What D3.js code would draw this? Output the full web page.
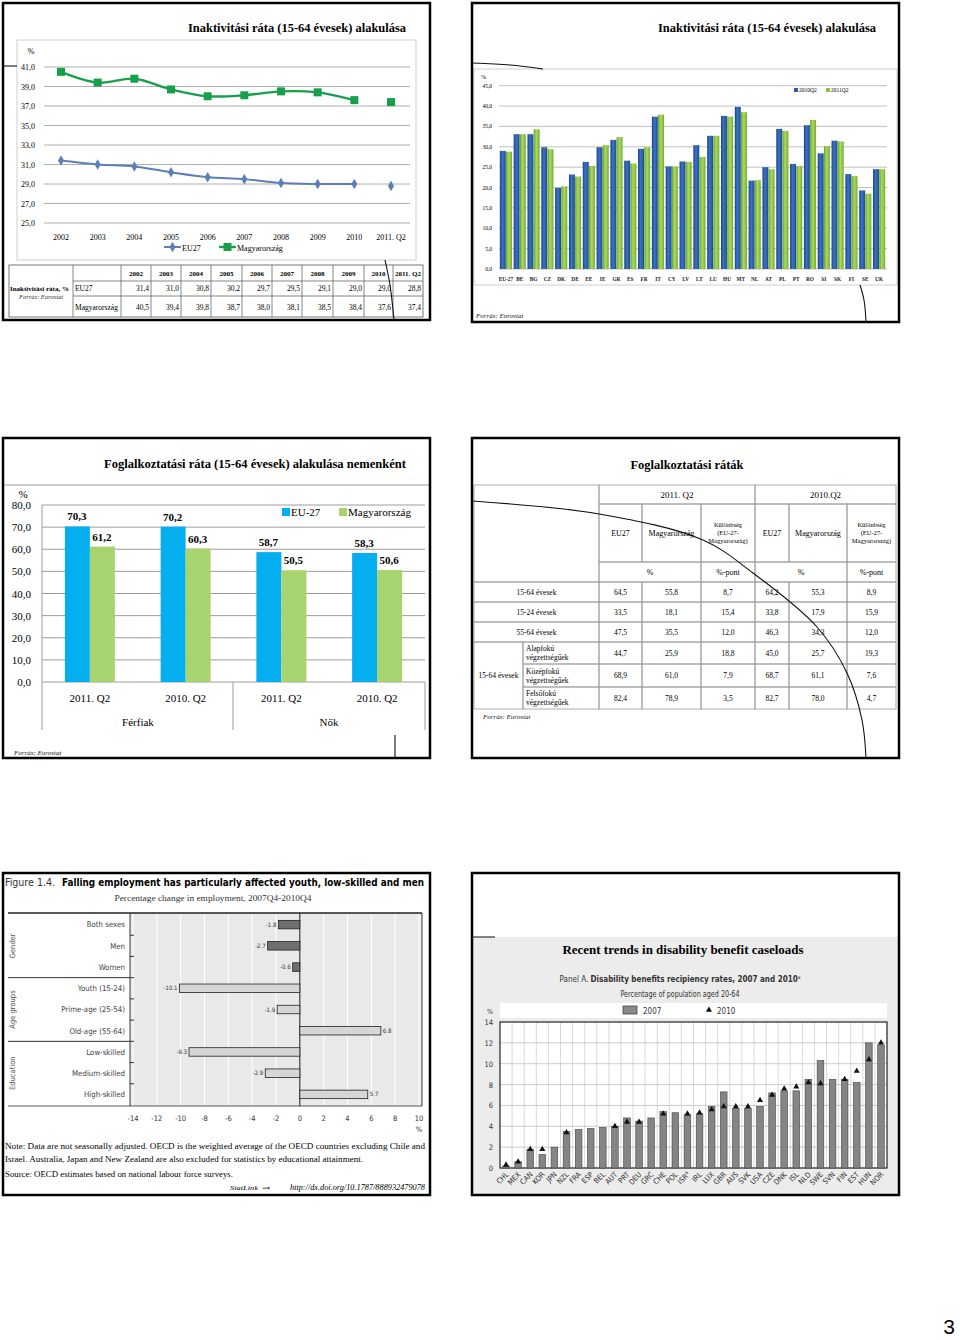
<!DOCTYPE html>
<html><head><meta charset="utf-8">
<script src="https://cdn.jsdelivr.net/npm/d3@7"></script>
<style>body{margin:0;background:#fff} svg{display:block}</style>
</head><body>
<svg id="c" width="960" height="1340"></svg>
<script>
// ---------- DATA ----------
const inactYears = ["2002","2003","2004","2005","2006","2007","2008","2009","2010","2011. Q2"];
const inactEU27 = [31.4,31.0,30.8,30.2,29.7,29.5,29.1,29.0,29.0,28.8];
const inactHU = [40.5,39.4,39.8,38.7,38.0,38.1,38.5,38.4,37.6,37.4];
const inactTicks = [25,27,29,31,33,35,37,39,41];
const inactSeries = ["EU27","Magyarország"];

const countries = ["EU-27","BE","BG","CZ","DK","DE","EE","IE","GR","ES","FR","IT","CY","LV","LT","LU","HU","MT","NL","AT","PL","PT","RO","SI","SK","FI","SE","UK"];
const inact2010Q2 = [29.0,33.1,33.1,29.9,19.9,23.2,26.3,29.9,31.7,26.6,29.5,37.4,25.2,26.4,30.4,32.7,37.6,39.8,21.7,25.0,34.4,25.8,35.3,28.4,31.5,23.3,19.3,24.5];
const inact2011Q2 = [28.8,33.1,34.3,29.4,20.3,22.7,25.3,30.4,32.4,25.9,29.9,37.9,25.2,26.3,27.5,32.7,37.4,38.5,21.8,24.5,33.9,25.3,36.6,30.2,31.3,22.8,18.5,24.5];
const barTicks = [0,5,10,15,20,25,30,35,40,45];
const barSeries = ["2010Q2","2011Q2"];

const empCats = ["2011. Q2","2010. Q2","2011. Q2","2010. Q2"];
const empGroups = ["Férfiak","Nők"];
const empEU = [70.3,70.2,58.7,58.3];
const empHU = [61.2,60.3,50.5,50.6];
const empTicks = [0,10,20,30,40,50,60,70,80];
const empSeries = ["EU-27","Magyarország"];

const tblRowLabels = ["15-64 évesek","15-24 évesek","55-64 évesek"];
const tblEduLabel = "15-64 évesek";
const tblEduRows = [["Alapfokú","végzettségűek"],["Középfokú","végzettségűek"],["Felsőfokú","végzettségűek"]];
const tblPeriods = ["2011. Q2","2010.Q2"];
const tblColHeads = [["EU27"],["Magyarország"],["Különbség","(EU-27-","Magyarország)"]];
const tblUnits = ["%","%-pont"];
const eu2011 = [64.5,33.5,47.5,44.7,68.9,82.4];
const hu2011 = [55.8,18.1,35.5,25.9,61.0,78.9];
const diff2011 = [8.7,15.4,12.0,18.8,7.9,3.5];
const eu2010 = [64.2,33.8,46.3,45.0,68.7,82.7];
const hu2010 = [55.3,17.9,34.3,25.7,61.1,78.0];
const diff2010 = [8.9,15.9,12.0,19.3,7.6,4.7];

const oecdCats = ["Both sexes","Men","Women","Youth (15-24)","Prime-age (25-54)","Old-age (55-64)","Low-skilled","Medium-skilled","High-skilled"];
const oecdVals = [-1.8,-2.7,-0.6,-10.1,-1.9,6.8,-9.3,-2.9,5.7];
const oecdGroups = ["Gender","Age groups","Education"];
const oecdTicks = [-14,-12,-10,-8,-6,-4,-2,0,2,4,6,8,10];

const disCountries = ["CHL","MEX","CAN","KOR","JPN","NZL","FRA","ESP","BEL","AUT","PRT","DEU","GRC","CHE","POL","ISR","IRL","LUX","GBR","AUS","SVK","USA","CZE","DNK","ISL","NLD","SWE","SVN","FIN","EST","HUN","NOR"];
const dis2007 = [0.2,0.6,1.8,1.3,2.0,3.5,3.7,3.8,3.9,4.0,4.8,4.5,4.8,5.4,5.3,5.1,5.2,5.9,7.3,5.7,5.7,5.9,7.2,7.4,7.4,8.5,10.3,8.5,8.5,8.2,12.0,11.8];
const dis2010 = [0.3,0.6,1.8,1.8,null,3.4,null,null,null,4.0,4.4,4.4,null,5.2,null,5.2,5.3,5.6,5.9,5.9,5.9,6.5,7.0,7.6,7.8,8.2,8.1,null,8.5,9.3,10.4,12.0];
const disTicks = [0,2,4,6,8,10,12,14];
const disSeries = ["2007","2010"];

// ---------- HELPERS ----------
const svg = d3.select("#c");
const SERIF = "'Liberation Serif','DejaVu Serif',serif";
const SANS = "'Liberation Sans','DejaVu Sans',sans-serif";
const COND = "'DejaVu Sans Condensed','Liberation Sans Narrow','Liberation Sans',sans-serif";
const fmt1 = v => d3.format(".1f")(v).replace(".", ",");

function T(g, x, y, s, o = {}) {
  const t = g.append("text").attr("x", x).attr("y", y).text(s)
    .attr("font-family", o.f || SERIF).attr("font-size", o.s || 8).attr("fill", o.c || "#000");
  if (o.w) t.attr("font-weight", o.w);
  if (o.a) t.attr("text-anchor", o.a);
  if (o.i) t.attr("font-style", "italic");
  if (o.len) t.attr("textLength", o.len).attr("lengthAdjust", "spacingAndGlyphs");
  if (o.r) t.attr("transform", `rotate(${o.r},${x},${y})`);
  return t;
}
const defs = svg.append("defs");
function hgrad(id, c0, c1, c2) {
  const g = defs.append("linearGradient").attr("id", id).attr("x1", 0).attr("x2", 1).attr("y1", 0).attr("y2", 0);
  g.append("stop").attr("offset", "0%").attr("stop-color", c0);
  g.append("stop").attr("offset", "45%").attr("stop-color", c1);
  g.append("stop").attr("offset", "100%").attr("stop-color", c2);
}
hgrad("gBlue", "#1c4585", "#3b74c4", "#1d4a8c");
hgrad("gGreen", "#6aa22c", "#a8dc60", "#74ad33");

function frame(x, y, w, h) {
  svg.append("rect").attr("x", x).attr("y", y).attr("width", w).attr("height", h)
    .attr("fill", "none").attr("stroke", "#000").attr("stroke-width", 2.5);
}
const deco = d3.line().curve(d3.curveCatmullRom);
function decoPath(pts) {
  svg.append("path").attr("d", deco(pts)).attr("fill", "none").attr("stroke", "#111").attr("stroke-width", 1.1);
}

// ================= PANEL 1 =================
{
  const g = svg.append("g");
  T(g, 406, 32, "Inaktivitási ráta (15-64 évesek) alakulása", {s: 13, w: "bold", a: "end", len: 218});
  g.append("rect").attr("x", 17).attr("y", 40).attr("width", 399).attr("height", 220)
    .attr("fill", "#fff").attr("stroke", "#cfcfcf");
  const y = d3.scaleLinear().domain([25, 41]).range([223, 67]);
  const x = d3.scalePoint().domain(inactYears).range([61, 391]);
  g.selectAll(".gl").data(inactTicks).join("line").attr("x1", 44).attr("x2", 410)
    .attr("y1", d => y(d)).attr("y2", d => y(d)).attr("stroke", "#9a9a9a").attr("stroke-width", 0.8);
  inactTicks.forEach(d => T(g, 35, y(d) + 3, fmt1(d), {s: 8, a: "end"}));
  T(g, 31, 54, "%", {s: 8, a: "middle"});
  inactYears.forEach(d => T(g, x(d), 240, d, {s: 8, a: "middle"}));
  const line = d3.line().x((d, i) => x(inactYears[i])).y(d => y(d)).curve(d3.curveCatmullRom);
  const cEU = "#5c7fb8", cHU = "#17a04c";
  g.append("path").attr("d", line(inactEU27.slice(0, 9))).attr("fill", "none").attr("stroke", cEU).attr("stroke-width", 2);
  g.append("path").attr("d", line(inactHU.slice(0, 9))).attr("fill", "none").attr("stroke", cHU).attr("stroke-width", 2.4);
  const dia = d3.symbol().type(d3.symbolDiamond).size(32);
  inactEU27.forEach((v, i) => g.append("path").attr("d", dia()).attr("fill", cEU)
    .attr("transform", `translate(${x(inactYears[i])},${y(v)})`));
  inactHU.forEach((v, i) => g.append("rect").attr("x", x(inactYears[i]) - 4).attr("y", y(v) - 4)
    .attr("width", 8).attr("height", 8).attr("fill", cHU));
  // legend
  g.append("line").attr("x1", 164).attr("x2", 181).attr("y1", 247).attr("y2", 247).attr("stroke", cEU).attr("stroke-width", 2);
  g.append("path").attr("d", dia()).attr("fill", cEU).attr("transform", "translate(172.5,247)");
  T(g, 182, 250.5, inactSeries[0], {s: 8});
  g.append("line").attr("x1", 219).attr("x2", 236).attr("y1", 247).attr("y2", 247).attr("stroke", cHU).attr("stroke-width", 2.4);
  g.append("rect").attr("x", 223.5).attr("y", 243).attr("width", 8).attr("height", 8).attr("fill", cHU);
  T(g, 237, 250.5, inactSeries[1], {s: 8});
  // table
  const cx = [9, 73, 121, 151, 181, 211, 242, 272, 302, 333, 364, 393, 423];
  const ls = "#555";
  g.append("rect").attr("x", 9).attr("y", 265).attr("width", 414).attr("height", 52).attr("fill", "none").attr("stroke", ls).attr("stroke-width", 0.8);
  [281, 296].forEach(yy => g.append("line").attr("x1", 73).attr("x2", 423).attr("y1", yy).attr("y2", yy).attr("stroke", ls).attr("stroke-width", 0.7));
  cx.slice(1, -1).forEach(xx => g.append("line").attr("x1", xx).attr("x2", xx).attr("y1", 265).attr("y2", 317).attr("stroke", ls).attr("stroke-width", 0.7));
  T(g, 10, 291, "Inaktivitási ráta, %", {s: 7, w: "bold"});
  T(g, 41, 299, "Forrás: Eurostat", {s: 6.5, i: true, a: "middle", c: "#333"});
  inactYears.forEach((d, i) => T(g, (cx[i + 2] + cx[i + 3]) / 2, 276, d, {s: 7, w: "bold", a: "middle"}));
  T(g, 75, 291, inactSeries[0], {s: 7.5});
  T(g, 75, 310, inactSeries[1], {s: 7.5});
  inactEU27.forEach((v, i) => T(g, cx[i + 3] - 2, 291, fmt1(v), {s: 7.5, a: "end"}));
  inactHU.forEach((v, i) => T(g, cx[i + 3] - 2, 310, fmt1(v), {s: 7.5, a: "end"}));
}
frame(3, 3, 427, 317);
decoPath([[4, 66], [17, 66]]);
decoPath([[385, 260], [390, 285], [394, 320]]);

// ================= PANEL 2 =================
{
  const g = svg.append("g");
  T(g, 876, 32, "Inaktivitási ráta (15-64 évesek) alakulása", {s: 13, w: "bold", a: "end", len: 218});
  g.append("rect").attr("x", 474).attr("y", 69).attr("width", 423).attr("height", 216)
    .attr("fill", "#fff").attr("stroke", "#cfcfcf");
  const y = d3.scaleLinear().domain([0, 45]).range([269, 85.7]);
  const x = d3.scaleBand().domain(countries).range([499, 886]).paddingInner(0.12).paddingOuter(0.06);
  const xs = d3.scaleBand().domain(barSeries).range([0, x.bandwidth()]).paddingInner(0.04);
  barTicks.forEach(d => {
    g.append("line").attr("x1", 499).attr("x2", 887).attr("y1", y(d)).attr("y2", y(d)).attr("stroke", "#b0b0b0").attr("stroke-width", 0.8);
    T(g, 492, y(d) + 2, fmt1(d), {s: 5.5, a: "end"});
  });
  T(g, 481, 79, "%", {s: 6});
  const series = [inact2010Q2, inact2011Q2];
  const fills = ["url(#gBlue)", "url(#gGreen)"];
  countries.forEach((c, i) => {
    series.forEach((s, k) => {
      g.append("rect").attr("x", x(c) + xs(barSeries[k])).attr("y", y(s[i]))
        .attr("width", xs.bandwidth()).attr("height", y(0) - y(s[i])).attr("fill", fills[k]);
    });
    T(g, x(c) + x.bandwidth() / 2, 281, c, {s: 5.3, w: "bold", a: "middle", c: "#222"});
  });
  // legend
  g.append("rect").attr("x", 794).attr("y", 88).attr("width", 4).attr("height", 4).attr("fill", "#2a5ca8");
  T(g, 799, 92, barSeries[0], {s: 5.5});
  g.append("rect").attr("x", 826).attr("y", 88).attr("width", 4).attr("height", 4).attr("fill", "#8cc63e");
  T(g, 831, 92, barSeries[1], {s: 5.5});
  T(g, 476, 318, "Forrás: Eurostat", {s: 7, i: true, c: "#222"});
}
frame(472, 3, 427, 319);
decoPath([[473, 63], [510, 65], [543, 69]]);
decoPath([[860, 285], [864, 300], [866, 321]]);

// ================= PANEL 3 =================
{
  const g = svg.append("g");
  T(g, 406, 468, "Foglalkoztatási ráta (15-64 évesek) alakulása nemenként", {s: 13, w: "bold", a: "end", len: 302});
  g.append("line").attr("x1", 4).attr("x2", 429).attr("y1", 485).attr("y2", 485).attr("stroke", "#999");
  const y = d3.scaleLinear().domain([0, 80]).range([682, 505]);
  const x = d3.scaleBand().domain(d3.range(empCats.length)).range([42, 425]);
  empTicks.forEach(d => {
    g.append("line").attr("x1", 42).attr("x2", 425).attr("y1", y(d)).attr("y2", y(d)).attr("stroke", "#9c9c9c").attr("stroke-width", 1);
    T(g, 31, y(d) + 4, fmt1(d), {s: 11, a: "end"});
  });
  T(g, 23, 498, "%", {s: 11, a: "middle"});
  [[42, 505, 730], [233, 682, 730], [425, 682, 730]].forEach(([xx, y0, y1]) =>
    g.append("line").attr("x1", xx).attr("x2", xx).attr("y1", y0).attr("y2", y1).attr("stroke", "#9c9c9c"));
  const cBlue = "#04aeef", cGreen = "#a7d46e";
  empCats.forEach((c, i) => {
    const cx = x(i) + x.bandwidth() / 2;
    g.append("rect").attr("x", cx - 25).attr("y", y(empEU[i])).attr("width", 25).attr("height", y(0) - y(empEU[i])).attr("fill", cBlue);
    g.append("rect").attr("x", cx).attr("y", y(empHU[i])).attr("width", 25).attr("height", y(0) - y(empHU[i])).attr("fill", cGreen);
    T(g, cx - 13, y(empEU[i]) - 6, fmt1(empEU[i]), {s: 11, w: "bold", a: "middle"});
    T(g, cx + 12, y(empHU[i]) - 6, fmt1(empHU[i]), {s: 11, w: "bold", a: "middle"});
    T(g, cx, 702, c, {s: 11, a: "middle"});
  });
  T(g, 138, 726, empGroups[0], {s: 11, a: "middle"});
  T(g, 329, 726, empGroups[1], {s: 11, a: "middle"});
  g.append("rect").attr("x", 282).attr("y", 508).attr("width", 8).attr("height", 8).attr("fill", cBlue);
  T(g, 291, 516, empSeries[0], {s: 11});
  g.append("rect").attr("x", 339).attr("y", 508).attr("width", 8).attr("height", 8).attr("fill", cGreen);
  T(g, 348, 516, empSeries[1], {s: 11});
  T(g, 14, 755, "Forrás: Eurostat", {s: 7, i: true, c: "#222"});
}
frame(3, 438, 427, 320);
decoPath([[395, 735], [395, 758]]);

// ================= PANEL 4 =================
{
  const g = svg.append("g");
  T(g, 687, 469, "Foglalkoztatási ráták", {s: 13, w: "bold", a: "middle", len: 113});
  const C = [474, 599, 642, 701, 755, 789, 847, 896];
  const lc = "#9a9a9a";
  function cell(x0, x1, y0, y1, lines, o = {}) {
    g.append("rect").attr("x", x0).attr("y", y0).attr("width", x1 - x0).attr("height", y1 - y0)
      .attr("fill", "none").attr("stroke", lc).attr("stroke-width", 0.8);
    if (!lines) return;
    const s = o.s || 7.5, lh = o.lh || s * 1.05, n = lines.length;
    const cy = (y0 + y1) / 2;
    lines.forEach((t, k) => {
      const yy = cy - (n - 1) * lh / 2 + k * lh + s * 0.35;
      if (o.left) T(g, x0 + 3, yy, t, {s});
      else T(g, (x0 + x1) / 2, yy, t, {s, a: "middle"});
    });
  }
  cell(C[0], C[1], 485, 582, null);
  cell(C[1], C[4], 485, 504, [tblPeriods[0]], {s: 9});
  cell(C[4], C[7], 485, 504, [tblPeriods[1]], {s: 9});
  [0, 3].forEach(off => {
    cell(C[1 + off], C[2 + off], 504, 562, tblColHeads[0], {s: 8});
    cell(C[2 + off], C[3 + off], 504, 562, tblColHeads[1], {s: 8});
    cell(C[3 + off], C[4 + off], 504, 562, tblColHeads[2], {s: 6.5, lh: 8});
    cell(C[1 + off], C[3 + off], 562, 582, [tblUnits[0]], {s: 8});
    cell(C[3 + off], C[4 + off], 562, 582, [tblUnits[1]], {s: 8});
  });
  const rowsY = [582, 602, 622, 642, 664, 687, 709];
  const cols = [eu2011, hu2011, diff2011, eu2010, hu2010, diff2010];
  for (let r = 0; r < 6; r++) {
    const y0 = rowsY[r], y1 = rowsY[r + 1];
    if (r < 3) cell(C[0], C[1], y0, y1, [tblRowLabels[r]]);
    else cell(523, C[1], y0, y1, tblEduRows[r - 3], {left: true, lh: 9});
    cols.forEach((arr, k) => cell(C[k + 1], C[k + 2], y0, y1, [fmt1(arr[r])]));
  }
  cell(C[0], 523, 642, 709, [tblEduLabel]);
  T(g, 483, 719, "Forrás: Eurostat", {s: 7, i: true, c: "#222"});
}
frame(472, 438, 427, 320);
decoPath([[472, 501], [599, 514], [703, 540], [753, 573], [817, 627], [847, 673], [862, 720], [866, 758]]);

// ================= PANEL 5 =================
{
  const g = svg.append("g");
  T(g, 5, 886, "Figure 1.4.", {s: 10.5, f: COND, c: "#333", len: 50});
  T(g, 62, 886, "Falling employment has particularly affected youth, low-skilled and men", {s: 11, f: COND, w: "bold", len: 362});
  T(g, 213, 901, "Percentage change in employment, 2007Q4-2010Q4", {s: 8, a: "middle", c: "#333", len: 197});
  const x = d3.scaleLinear().domain([-14, 10]).range([133, 419]);
  const y = d3.scaleBand().domain(oecdCats).range([914, 1105]).paddingInner(0.6).paddingOuter(0.3);
  g.append("rect").attr("x", 130).attr("y", 913).attr("width", 292).attr("height", 193).attr("fill", "#e9e9e9");
  oecdTicks.forEach(d => {
    g.append("line").attr("x1", x(d)).attr("x2", x(d)).attr("y1", 913).attr("y2", 1106).attr("stroke", "#fff").attr("stroke-width", 1);
    T(g, x(d), 1121, d, {s: 7.5, f: COND, a: "middle", c: "#333"});
  });
  T(g, 419, 1132, "%", {s: 7.5, f: COND, a: "middle", c: "#333"});
  g.append("line").attr("x1", 8).attr("x2", 422).attr("y1", 913).attr("y2", 913).attr("stroke", "#222").attr("stroke-width", 1.5);
  g.append("line").attr("x1", 8).attr("x2", 422).attr("y1", 1106).attr("y2", 1106).attr("stroke", "#555").attr("stroke-width", 1);
  g.append("line").attr("x1", 130).attr("x2", 130).attr("y1", 913).attr("y2", 1106).attr("stroke", "#333");
  g.append("line").attr("x1", 422).attr("x2", 422).attr("y1", 913).attr("y2", 1106).attr("stroke", "#333");
  g.append("line").attr("x1", x(0)).attr("x2", x(0)).attr("y1", 913).attr("y2", 1106).attr("stroke", "#111").attr("stroke-width", 1);
  const step = y.step();
  oecdCats.forEach((c, i) => {
    const v = oecdVals[i];
    const yy = y(c);
    if (i > 0) g.append("line").attr("x1", 130).attr("x2", 134).attr("y1", yy - step * 0.3).attr("y2", yy - step * 0.3).attr("stroke", "#333");
    g.append("rect").attr("x", Math.min(x(0), x(v))).attr("y", yy).attr("width", Math.abs(x(v) - x(0)))
      .attr("height", y.bandwidth()).attr("fill", i < 3 ? "#6f6f6f" : "#d6d6d6").attr("stroke", "#222").attr("stroke-width", 0.8);
    const ly = yy + y.bandwidth() / 2 + 2;
    if (v < 0) T(g, x(v) - 2, ly, String(v), {s: 6, f: COND, a: "end", c: "#333"});
    else T(g, x(v) + 2, ly, String(v), {s: 6, f: COND, c: "#333"});
    T(g, 125, yy + y.bandwidth() / 2 + 2.8, c, {s: 7.8, f: COND, a: "end", c: "#444"});
  });
  [3, 6].forEach(k => {
    const yy = y(oecdCats[k]) - step * 0.3;
    g.append("line").attr("x1", 8).attr("x2", 130).attr("y1", yy).attr("y2", yy).attr("stroke", "#333");
  });
  oecdGroups.forEach((gname, k) => {
    const yc = (y(oecdCats[k * 3]) + y(oecdCats[k * 3 + 2]) + y.bandwidth()) / 2;
    T(g, 15, yc, gname, {s: 7.5, f: COND, a: "middle", c: "#555", r: -90});
  });
  T(g, 5, 1149, "Note: Data are not seasonally adjusted. OECD is the weighted average of the OECD countries excluding Chile and", {s: 7.5, len: 420});
  T(g, 5, 1162, "Israel. Australia, Japan and New Zealand are also excluded for statistics by educational attainment.", {s: 7.5, len: 358});
  T(g, 5, 1177, "Source:  OECD estimates based on national labour force surveys.", {s: 7.5, len: 228});
  T(g, 230, 1190, "StatLink", {s: 6.5, i: true, len: 28});
  T(g, 263, 1190, "▪▪▾", {s: 5.5, c: "#333"});
  T(g, 425, 1190, "http://dx.doi.org/10.1787/888932479078", {s: 7.5, i: true, a: "end", len: 135});
}
frame(3, 873, 427, 322);

// ================= PANEL 6 =================
{
  const g = svg.append("g");
  g.append("rect").attr("x", 473).attr("y", 937).attr("width", 425).attr("height", 257).attr("fill", "#ececec");
  g.append("line").attr("x1", 473).attr("x2", 495).attr("y1", 937).attr("y2", 937).attr("stroke", "#333").attr("stroke-width", 1.2);
  T(g, 683, 954, "Recent trends in disability benefit caseloads", {s: 13, w: "bold", a: "middle", len: 241});
  const sub = T(g, 680, 982, "Panel A. ", {s: 8, f: COND, a: "middle", c: "#333"});
  sub.append("tspan").attr("font-weight", "bold").text("Disability benefits recipiency rates, 2007 and 2010");
  sub.append("tspan").attr("font-size", 5).attr("dy", -3).text("a");
  T(g, 680, 997, "Percentage of population aged 20-64", {s: 8, f: COND, a: "middle", c: "#333", len: 119});
  g.append("rect").attr("x", 500).attr("y", 1003).attr("width", 387).attr("height", 15).attr("fill", "#fff");
  g.append("rect").attr("x", 623).attr("y", 1006).attr("width", 14).attr("height", 8).attr("fill", "#8a8a8a").attr("stroke", "#333").attr("stroke-width", 0.7);
  T(g, 643, 1014, disSeries[0], {s: 8, f: COND, c: "#333"});
  const tri = d3.symbol().type(d3.symbolTriangle).size(16);
  g.append("path").attr("d", tri()).attr("fill", "#111").attr("transform", "translate(709,1010)");
  T(g, 717, 1014, disSeries[1], {s: 8, f: COND, c: "#333"});
  T(g, 490, 1014, "%", {s: 7, f: COND, a: "middle", c: "#333"});
  const y = d3.scaleLinear().domain([0, 14]).range([1168, 1022]);
  const x = d3.scaleBand().domain(disCountries).range([500, 887]).paddingInner(0.45).paddingOuter(0.225);
  g.append("rect").attr("x", 500).attr("y", 1022).attr("width", 387).attr("height", 146).attr("fill", "#fff");
  disCountries.forEach((c, i) => {
    if (i > 0) {
      const xx = x(c) - x.step() * x.paddingInner() / 2;
      g.append("line").attr("x1", xx).attr("x2", xx).attr("y1", 1022).attr("y2", 1168).attr("stroke", "#c8c8c8").attr("stroke-width", 0.7);
    }
  });
  disTicks.forEach(d => {
    if (d > 0 && d < 14) g.append("line").attr("x1", 500).attr("x2", 887).attr("y1", y(d)).attr("y2", y(d)).attr("stroke", "#b5b5b5").attr("stroke-width", 0.7);
    T(g, 493, y(d) + 3, d, {s: 7.5, f: COND, a: "end", c: "#333"});
  });
  g.append("rect").attr("x", 500).attr("y", 1022).attr("width", 387).attr("height", 146).attr("fill", "none").attr("stroke", "#222").attr("stroke-width", 1.2);
  disCountries.forEach((c, i) => {
    g.append("rect").attr("x", x(c)).attr("y", y(dis2007[i])).attr("width", x.bandwidth()).attr("height", y(0) - y(dis2007[i]))
      .attr("fill", "#858585").attr("stroke", "#444").attr("stroke-width", 0.6);
    const cx = x(c) + x.bandwidth() / 2;
    if (dis2010[i] != null) g.append("path").attr("d", tri()).attr("fill", "#111").attr("transform", `translate(${cx},${y(dis2010[i])})`);
    const t = T(g, cx + 3, 1175, c, {s: 7.5, f: COND, a: "end", c: "#333", r: -45});
    if (c === "ISR") t.append("tspan").attr("font-size", 5).attr("dy", -3).text("a");
  });
}
frame(472, 873, 427, 322);

// page number
T(svg, 949, 1334, "3", {s: 21, f: SANS, a: "middle"});
</script>
</body></html>
